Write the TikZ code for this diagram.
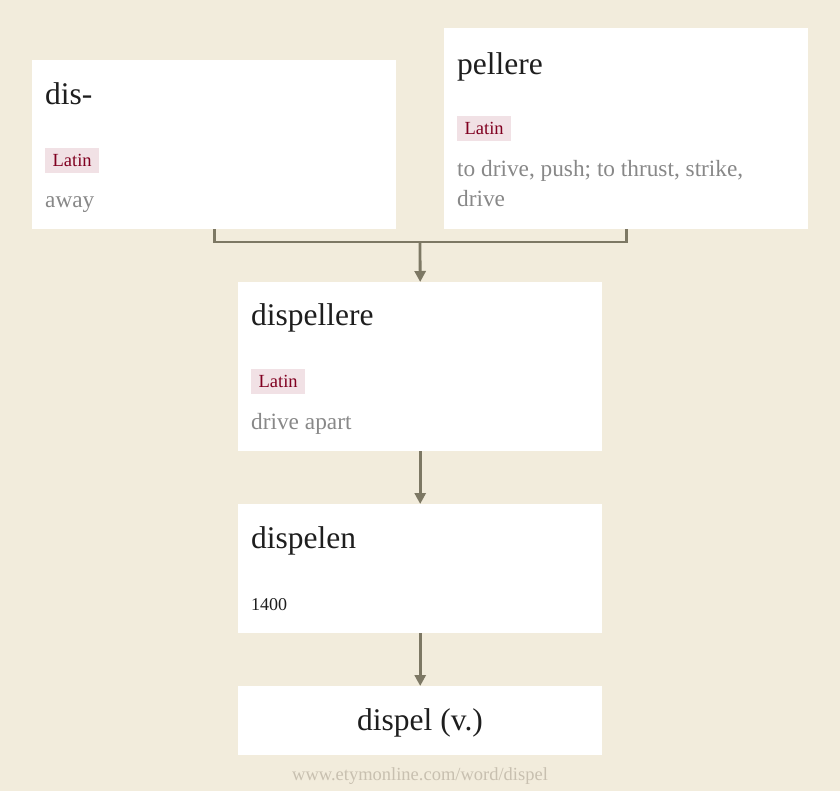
\documentclass[tikz,border=0pt]{standalone}
\usepackage{fontspec}
\setmainfont{Liberation Serif}
\usetikzlibrary{arrows.meta}
\definecolor{bg}{RGB}{242,236,220}
\definecolor{conn}{RGB}{125,120,100}
\definecolor{tagbg}{RGB}{241,225,229}
\definecolor{tagfg}{RGB}{128,0,32}
\definecolor{deffg}{RGB}{136,136,136}
\definecolor{titlefg}{RGB}{30,30,30}
\definecolor{urlfg}{RGB}{200,192,176}
\tikzset{
  wbox/.style={fill=white, draw=none, inner sep=0pt, anchor=north west},
  ttl/.style={anchor=base west, inner sep=0pt, text=titlefg, font=\fontsize{31.5}{36}\selectfont},
  tag/.style={anchor=north west, fill=tagbg, text=tagfg, inner sep=0pt, minimum width=54pt, minimum height=25pt, font=\fontsize{18.5}{22}\selectfont},
  defn/.style={anchor=base west, inner sep=0pt, text=deffg, font=\fontsize{23.3}{30}\selectfont},
  link/.style={draw=conn, line width=2.8pt, line join=miter},
  arr/.style={link, -{Triangle[width=11pt,length=11pt]}}
}
\begin{document}
\begin{tikzpicture}[x=1pt,y=-1pt]
\fill[bg] (0,0) rectangle (840,791);
\useasboundingbox (0,0) rectangle (840,791);
% boxes
\node[wbox, minimum width=364pt, minimum height=169pt] (dis) at (32,60) {};
\node[wbox, minimum width=364pt, minimum height=201pt] (pel) at (444,28) {};
\node[wbox, minimum width=364pt, minimum height=169pt] (dspl) at (238,282) {};
\node[wbox, minimum width=364pt, minimum height=129pt] (dspn) at (238,504) {};
\node[wbox, minimum width=364pt, minimum height=69pt] (dsp) at (238,686) {};
% dis-
\node[ttl] (t1) at (45,105) {dis-};
\node[tag] (g1) at (45,147.5) {Latin};
\node[defn] (d1) at (45,208) {away};
% pellere
\node[ttl] (t2) at (457,75) {pellere};
\node[tag] (g2) at (457,116) {Latin};
\node[defn] (d2a) at (457,177) {to drive, push; to thrust, strike,};
\node[defn] (d2b) at (457,207) {drive};
% dispellere
\node[ttl] (t3) at (251,326) {dispellere};
\node[tag] (g3) at (251,369) {Latin};
\node[defn] (d3) at (251,429) {drive apart};
% dispelen
\node[ttl] (t4) at (251,548) {dispelen};
\node[anchor=base west, inner sep=0pt, text=titlefg, font=\fontsize{18}{20}\selectfont] (y4) at (251,610) {1400};
% dispel
\node[anchor=base, inner sep=0pt, text=titlefg, font=\fontsize{31.5}{36}\selectfont] (t5) at (420,730) {dispel (v.)};
% footer
\node[anchor=base, inner sep=0pt, text=urlfg, font=\fontsize{18.5}{22}\selectfont] (url) at (420,780) {www.etymonline.com/word/dispel};
% connectors
\coordinate (j) at (420,242);
\draw[link] (dis.south) |- (j) -| (pel.south);
\draw[arr] (j) -- (dspl.north);
\draw[arr] (dspl.south) -- (dspn.north);
\draw[arr] (dspn.south) -- (dsp.north);
\end{tikzpicture}
\end{document}
